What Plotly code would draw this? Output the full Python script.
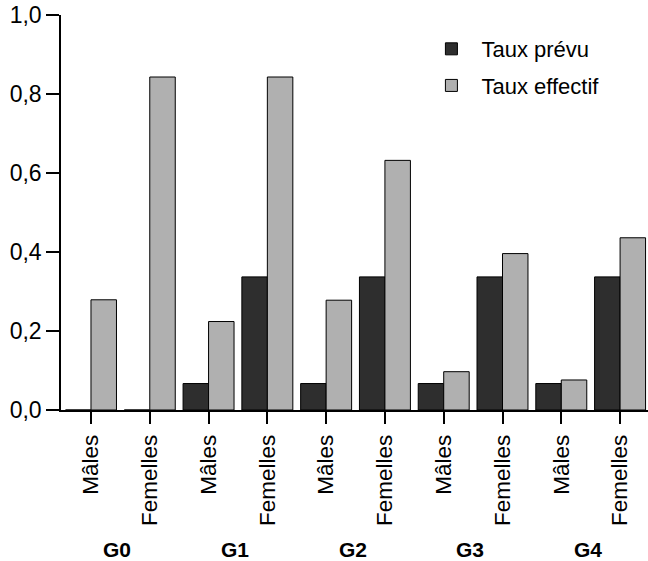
import plotly.graph_objects as go

groups = ["G0", "G1", "G2", "G3", "G4"]
sexes = ["Mâles", "Femelles"]
taux_prevu = [0.0, 0.0, 0.067, 0.337, 0.067, 0.337, 0.067, 0.337, 0.067, 0.337]
taux_effectif = [0.279, 0.843, 0.224, 0.843, 0.278, 0.632, 0.097, 0.396, 0.076, 0.436]
yticks = [0.0, 0.2, 0.4, 0.6, 0.8, 1.0]

labels = [s for g in groups for s in sexes]
xpos = list(range(len(labels)))

FONT = "Liberation Sans, Arial, sans-serif"

fig = go.Figure()
fig.add_trace(go.Bar(x=xpos, y=taux_prevu, name="Taux prévu",
                     marker=dict(color="#2e2e2e", line=dict(color="#000", width=1)),
                     legendgroup="a"))
fig.add_trace(go.Bar(x=xpos, y=taux_effectif, name="Taux effectif",
                     marker=dict(color="#b0b0b0", line=dict(color="#000", width=1)),
                     legendgroup="b"))

for i, g in enumerate(groups):
    fig.add_annotation(x=2 * i + 0.45, y=-0.352, xref="x", yref="paper",
                       yanchor="middle", xanchor="center",
                       text=f"<b>{g}</b>", showarrow=False,
                       font=dict(family=FONT, size=21, color="#000"))

fig.update_layout(
    width=648, height=561,
    margin=dict(l=61, r=0, t=15, b=151, autoexpand=False),
    paper_bgcolor="white", plot_bgcolor="white",
    barmode="group", bargap=0.133, bargroupgap=0,
    separators=", ",
    font=dict(family=FONT, size=20, color="#000"),
    legend=dict(x=0.614, y=0.967, xanchor="left", yanchor="top",
                itemwidth=50, tracegroupgap=5,
                font=dict(family=FONT, size=22, color="#000"),
                bgcolor="rgba(0,0,0,0)"),
    xaxis=dict(range=[-0.51, 9.475], tickmode="array", tickvals=xpos, ticktext=labels,
               tickangle=-90, showline=True, linecolor="#000", linewidth=1.5,
               ticks="outside", ticklen=12, tickwidth=1.5, tickcolor="#000",
               ticklabelstandoff=2, showgrid=False, zeroline=False, automargin=False,
               tickfont=dict(family=FONT, size=22.5, color="#000")),
    yaxis=dict(range=[0, 1.0], tickmode="array", tickvals=yticks, tickformat=".1f",
               showline=True, linecolor="#000", linewidth=1.5,
               ticks="outside", ticklen=13, tickwidth=1.5, tickcolor="#000",
               ticklabeloverflow="allow", automargin=False,
               showgrid=False, zeroline=False,
               tickfont=dict(family=FONT, size=23, color="#000")),
)

fig.write_html("out.html", config={"displayModeBar": False},
               post_script="document.body.style.margin='0';")
